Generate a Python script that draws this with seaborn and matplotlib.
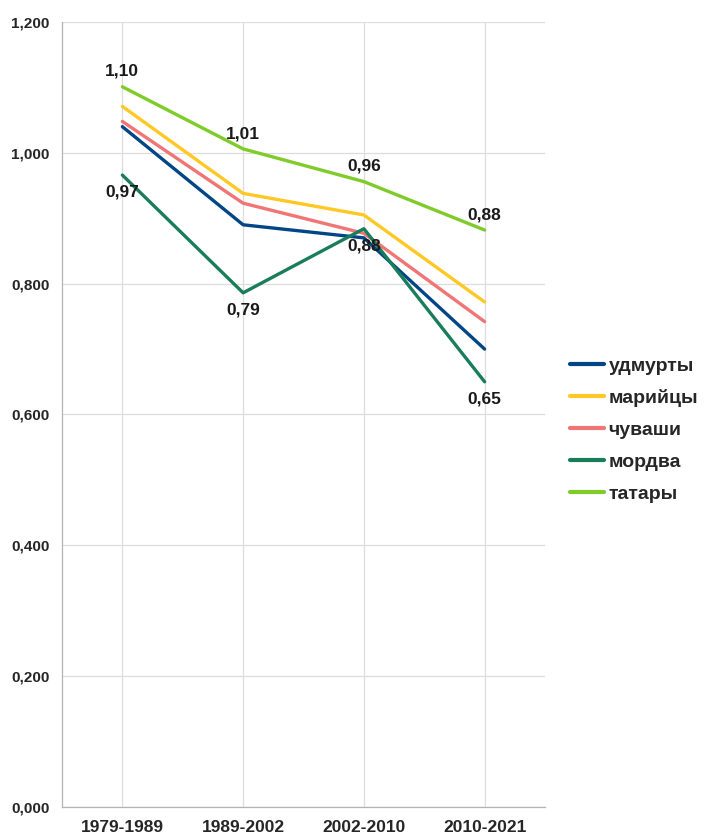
import numpy as np
import pandas as pd
import seaborn as sns
import matplotlib.pyplot as plt
from matplotlib.ticker import FuncFormatter, FixedLocator

# данные
periods = ['1979-1989', '1989-2002', '2002-2010', '2010-2021']
udmurty = [1.040, 0.890, 0.870, 0.700]
mariytsy = [1.071, 0.938, 0.905, 0.772]
chuvashi = [1.048, 0.923, 0.877, 0.742]
mordva = [0.966, 0.786, 0.884, 0.650]
tatary = [1.101, 1.006, 0.956, 0.882]

names = ['удмурты', 'марийцы', 'чуваши', 'мордва', 'татары']
colors = ['#004586', '#ffc825', '#f07575', '#1a7d5a', '#7fcb2a']

series = [udmurty, mariytsy, chuvashi, mordva, tatary]
df = pd.DataFrame({
    'period': periods * len(names),
    'value': [v for s in series for v in s],
    'group': [n for n in names for _ in periods],
})

sns.set_style('white')
plt.rcParams['font.family'] = ['Liberation Sans', 'DejaVu Sans']

fig = plt.figure(figsize=(7.16, 8.36), dpi=100)
ax = fig.add_axes([62 / 716, 1 - 807 / 836, (545 - 62) / 716, (807 - 22) / 836])

sns.lineplot(data=df, x='period', y='value', hue='group', palette=colors,
             hue_order=names, sort=False, linewidth=2.4, ax=ax)

ax.set_xlim(-0.5, 3.5)
ax.set_ylim(0, 1.2)
ax.set_yticks(np.arange(0, 1.21, 0.2))
ax.yaxis.set_major_formatter(FuncFormatter(lambda v, p: f'{v:.3f}'.replace('.', ',')))
ax.set_xlabel('')
ax.set_ylabel('')

# сетка
ax.grid(True, color='#dddddd', linewidth=0.9)
ax.set_axisbelow(True)
for s in ['top', 'right']:
    ax.spines[s].set_visible(False)
for s in ['left', 'bottom']:
    ax.spines[s].set_color('#b3b3b3')
    ax.spines[s].set_linewidth(0.9)

ax.tick_params(axis='y', length=6, color='#b3b3b3', width=0.9, labelsize=11, pad=3)
ax.tick_params(axis='x', which='major', length=0, labelsize=12.5, pad=9)
ax.xaxis.set_minor_locator(FixedLocator([0.5, 1.5, 2.5, 3.5]))
ax.tick_params(axis='x', which='minor', length=6, color='#b3b3b3', width=0.9)
for lab in ax.get_xticklabels() + ax.get_yticklabels():
    lab.set_fontweight('bold')

# подписи значений
for i, v in enumerate(tatary):
    ax.annotate(f'{v:.2f}'.replace('.', ','), (i, v), xytext=(0, 11),
                textcoords='offset points', ha='center', va='center',
                fontsize=12.5, fontweight='bold', color='#1a1a1a')
for i, v in enumerate(mordva):
    ax.annotate(f'{v:.2f}'.replace('.', ','), (i, v), xytext=(0, -12.5),
                textcoords='offset points', ha='center', va='center',
                fontsize=12.5, fontweight='bold', color='#1a1a1a')

leg = ax.legend(loc='center left', bbox_to_anchor=(1.035, 0.48), frameon=False,
                prop={'weight': 'bold', 'size': 14}, handlelength=1.75,
                handletextpad=0.25, labelspacing=0.74, borderaxespad=0)
for line in leg.get_lines():
    line.set_linewidth(3)

fig.savefig('out.png', dpi=100)
